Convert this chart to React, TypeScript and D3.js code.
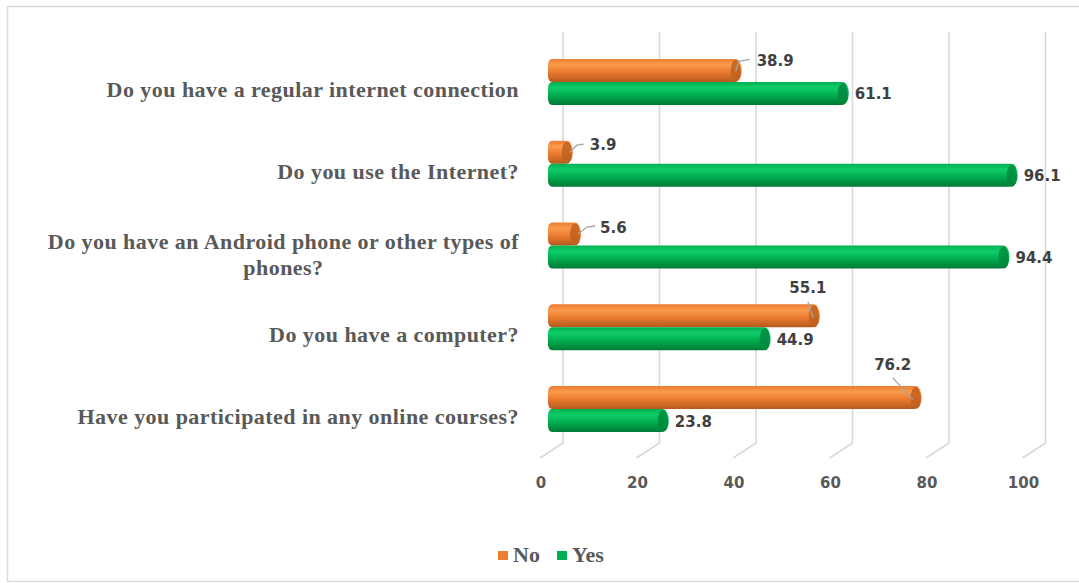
import React, { useEffect, useRef } from "react";
import * as d3 from "d3";

const categories = [
  "Do you have a regular internet connection",
  "Do you use the Internet?",
  "Do you have an Android phone or other types of|phones?",
  "Do you have a computer?",
  "Have you participated in any online courses?",
];
const noValues = [38.9, 3.9, 5.6, 55.1, 76.2];
const yesValues = [61.1, 96.1, 94.4, 44.9, 23.8];
const xTicks = [0, 20, 40, 60, 80, 100];
const seriesNames = ["No", "Yes"];

// layout: label nudges for the "No" series (Excel-style placement)
const noLabelNudge: { t: [number, number]; mid: boolean; leader: [number, number][] }[] = [
  { t: [21, -4], mid: false, leader: [[0, 1], [3, -9], [14, -11]] },
  { t: [23, -2], mid: false, leader: [[3, 0], [10, -7], [17, -8]] },
  { t: [25, -1], mid: false, leader: [[3, 0], [12, -7], [20, -8]] },
  { t: [-6, -23], mid: true, leader: [[-1, 2], [-6, -14]] },
  { t: [-23, -28], mid: true, leader: [[-3, 2], [-23, -20]] },
];

const W = 1079;
const H = 583;
const ORANGE = { light: "#F99B4E", mid: "#ED7D31", dark: "#B5591C", cap: "#C0611F" };
const GREEN = { light: "#10CC6A", mid: "#00B050", dark: "#007A36", cap: "#008A3E" };

export default function App() {
  const ref = useRef<SVGSVGElement>(null);

  useEffect(() => {
    const svg = d3.select(ref.current);
    svg.selectAll("*").remove();

    const x = d3.scaleLinear().domain([0, 100]).range([548, 1030.5]);
    const backDx = 15;
    const frontDx = -7;
    const gridTop = 32;
    const gridBottom = 443;
    const y = d3.scaleBand<number>().domain(d3.range(categories.length)).range([41, 450]);
    const cy = (i: number) => (y(i) as number) + y.bandwidth() / 2;
    const barH = 23;

    const defs = svg.append("defs");
    const mkGrad = (id: string, c: typeof ORANGE) => {
      const g = defs.append("linearGradient").attr("id", id).attr("x1", 0).attr("y1", 0).attr("x2", 0).attr("y2", 1);
      g.append("stop").attr("offset", "0%").attr("stop-color", c.mid);
      g.append("stop").attr("offset", "25%").attr("stop-color", c.light);
      g.append("stop").attr("offset", "55%").attr("stop-color", c.mid);
      g.append("stop").attr("offset", "100%").attr("stop-color", c.dark);
    };
    mkGrad("gNo", ORANGE);
    mkGrad("gYes", GREEN);

    // frame
    svg.append("rect").attr("x", 7.5).attr("y", 6.5).attr("width", W).attr("height", H - 8)
      .attr("fill", "white").attr("stroke", "#D9D9D9").attr("stroke-width", 1.5);

    // gridlines (3D back wall + floor edge)
    xTicks.forEach((t) => {
      const gx = x(t) + backDx;
      svg.append("path")
        .attr("d", `M${gx},${gridTop}L${gx},${gridBottom}L${gx - 23},${gridBottom + 15}`)
        .attr("fill", "none").attr("stroke", "#D9D9D9").attr("stroke-width", 1.6);
      svg.append("text").attr("x", x(t) + frontDx).attr("y", 488)
        .attr("text-anchor", "middle").attr("font-family", "DejaVu Sans, Verdana, sans-serif")
        .attr("font-weight", "bold").attr("font-size", 15).attr("fill", "#595959").text(String(t));
    });

    // category labels
    categories.forEach((c, i) => {
      const lines = c.split("|");
      const t = svg.append("text").attr("font-family", "Liberation Serif, Times New Roman, serif")
        .attr("font-weight", "bold").attr("font-size", 22).attr("letter-spacing", 0.45).attr("fill", "#595959");
      const base = lines.length > 1 ? cy(i) + 3 : cy(i) + 15;
      const spans = lines.map((l, k) => t.append("tspan").attr("y", base + k * 26).text(l));
      const widths = spans.map((s) => (s.node() as SVGTSpanElement).getComputedTextLength());
      const maxW = d3.max(widths) as number;
      const right = 519;
      spans.forEach((s) => s.attr("x", right - maxW / 2).attr("text-anchor", "middle"));
    });

    // bars (cylinders)
    const drawCyl = (v: number, center: number, grad: string, cap: string) => {
      const x0 = x(0);
      const x1 = x(v);
      const g = svg.append("g");
      g.append("rect").attr("x", x0).attr("y", center - barH / 2).attr("width", x1 - x0 + 2).attr("height", barH)
        .attr("rx", 4).attr("ry", 6).attr("fill", `url(#${grad})`);
      g.append("ellipse").attr("cx", x1).attr("cy", center).attr("rx", 6).attr("ry", barH / 2).attr("fill", `url(#${grad})`);
      g.append("ellipse").attr("cx", x1).attr("cy", center).attr("rx", 5).attr("ry", barH / 2 - 1).attr("fill", cap).attr("opacity", 0.85);
    };

    const labelFont = (sel: any) =>
      sel.attr("font-family", "DejaVu Sans, Verdana, sans-serif").attr("font-weight", "bold")
        .attr("font-size", 15).attr("fill", "#404040");

    categories.forEach((_, i) => {
      const c = cy(i);
      const cNo = c - barH / 2;
      const cYes = c + barH / 2;
      drawCyl(noValues[i], cNo, "gNo", ORANGE.cap);
      drawCyl(yesValues[i], cYes, "gYes", GREEN.cap);

      const xn = x(noValues[i]);
      const nd = noLabelNudge[i];
      const line = d3.line<[number, number]>().x((p) => xn + p[0]).y((p) => cNo + p[1]);
      svg.append("path").attr("d", line(nd.leader) as string)
        .attr("stroke", "#A6A6A6").attr("stroke-width", 1.3).attr("fill", "none");
      labelFont(svg.append("text").attr("x", xn + nd.t[0]).attr("y", cNo + nd.t[1])
        .attr("text-anchor", nd.mid ? "middle" : "start").text(noValues[i].toFixed(1)));

      const xy = x(yesValues[i]);
      labelFont(svg.append("text").attr("x", xy + 12).attr("y", cYes + 6).text(yesValues[i].toFixed(1)));
    });

    // legend
    const colors = [ORANGE.mid, GREEN.mid];
    const lx = [498, 557];
    seriesNames.forEach((n, k) => {
      svg.append("rect").attr("x", lx[k]).attr("y", 551).attr("width", 10).attr("height", 9).attr("fill", colors[k]);
      svg.append("text").attr("x", lx[k] + 15).attr("y", 562)
        .attr("font-family", "Liberation Serif, Times New Roman, serif").attr("font-weight", "bold")
        .attr("font-size", 22).attr("fill", "#595959").text(n);
    });
  }, []);

  return (
    <svg ref={ref} width={W} height={H} style={{ position: "absolute", left: 0, top: 0, background: "white" }} />
  );
}
